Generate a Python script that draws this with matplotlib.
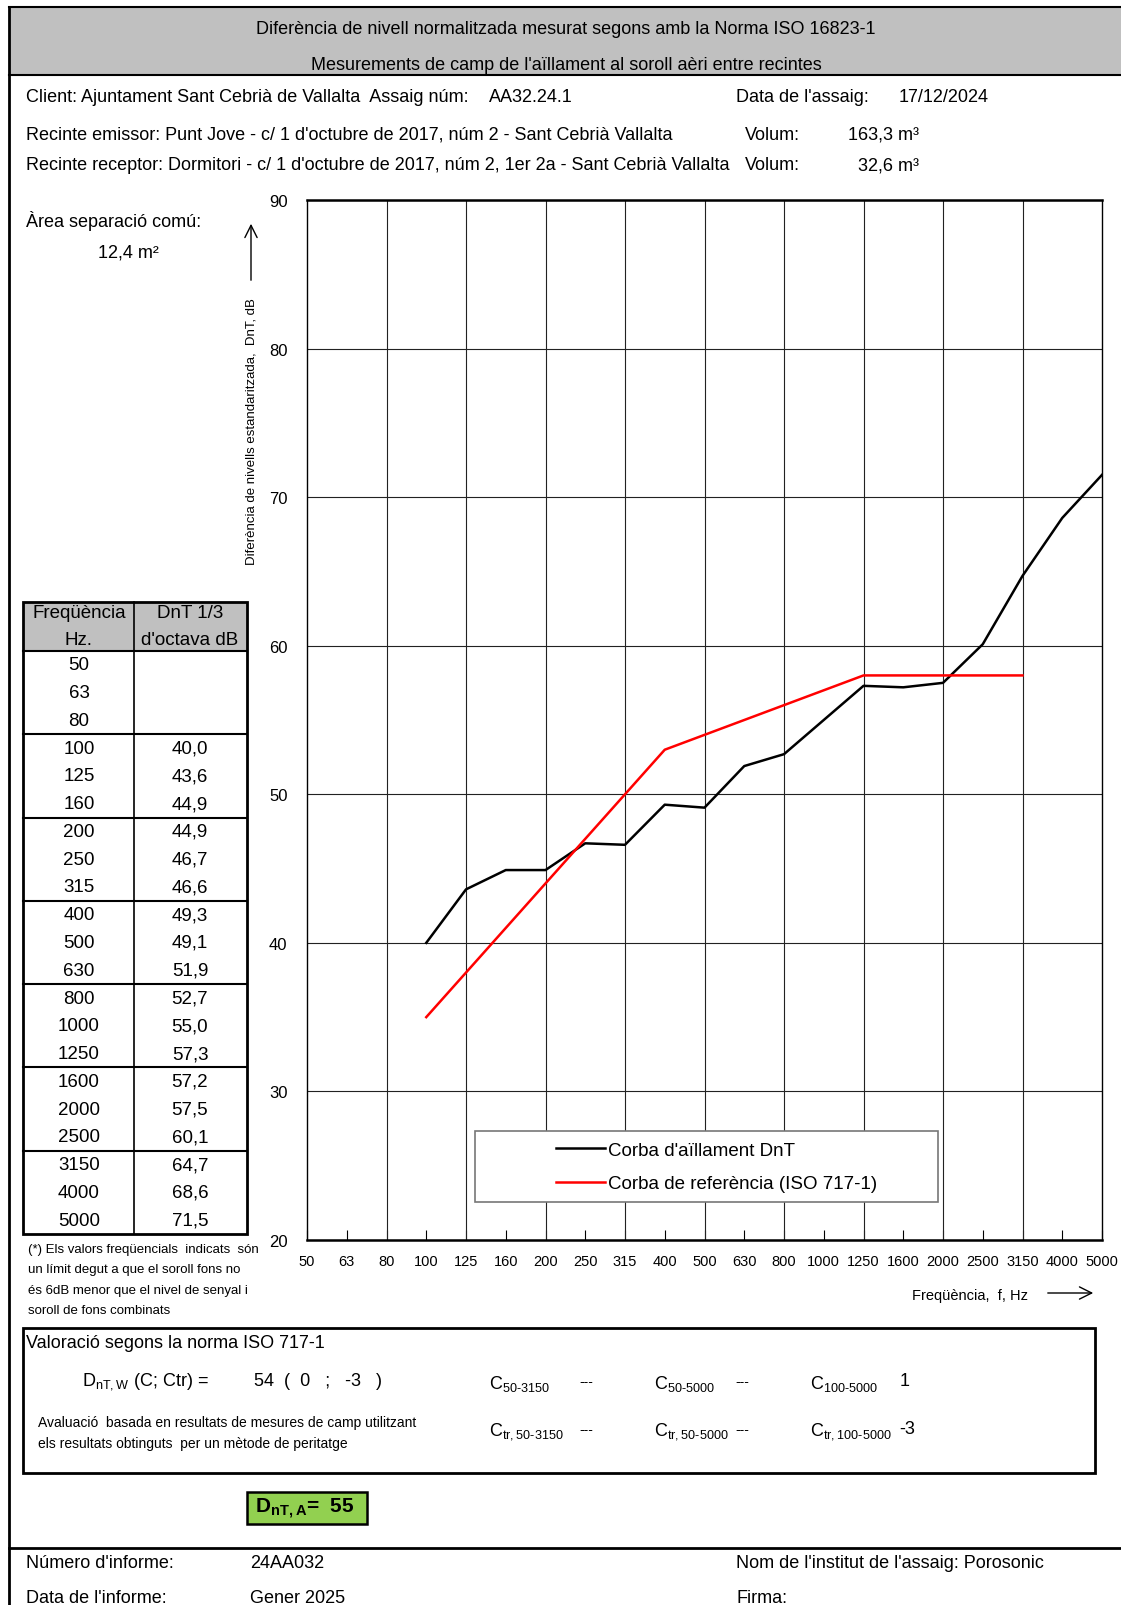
import matplotlib
matplotlib.use("Agg")
import matplotlib.pyplot as plt
from matplotlib import font_manager
from matplotlib.patches import Rectangle

# --- data ---
freq_labels = ["50", "63", "80", "100", "125", "160", "200", "250", "315", "400", "500",
               "630", "800", "1000", "1250", "1600", "2000", "2500", "3150", "4000", "5000"]
dnt_freqs = ["100", "125", "160", "200", "250", "315", "400", "500", "630", "800",
             "1000", "1250", "1600", "2000", "2500", "3150", "4000", "5000"]
dnt_values = [40.0, 43.6, 44.9, 44.9, 46.7, 46.6, 49.3, 49.1, 51.9, 52.7,
              55.0, 57.3, 57.2, 57.5, 60.1, 64.7, 68.6, 71.5]
ref_freqs = ["100", "125", "160", "200", "250", "315", "400", "500", "630", "800",
             "1000", "1250", "1600", "2000", "2500", "3150"]
ref_values = [35, 38, 41, 44, 47, 50, 53, 54, 55, 56, 57, 58, 58, 58, 58, 58]
grid_freqs = ["80", "125", "200", "315", "500", "800", "1250", "2000", "3150"]
y_ticks = [20, 30, 40, 50, 60, 70, 80, 90]

# fonts
names = {f.name for f in font_manager.fontManager.ttflist}
narrow = "Liberation Sans Narrow" if "Liberation Sans Narrow" in names else "Liberation Sans"
plain = "Liberation Sans"
plt.rcParams["font.family"] = [narrow, "DejaVu Sans"]
plt.rcParams["mathtext.fontset"] = "custom"
plt.rcParams["mathtext.rm"] = narrow
plt.rcParams["mathtext.default"] = "regular"

W, H = 1121, 1606
fig = plt.figure(figsize=(W / 100, H / 100), dpi=100)

# page layer in pixel coordinates
pg = fig.add_axes([0, 0, 1, 1])
pg.set_xlim(0, W)
pg.set_ylim(H, 0)
pg.axis("off")

def txt(x, y, s, size=13, ha="left", **kw):
    pg.text(x, y, s, fontsize=size, ha=ha, va="center", **kw)

# frame + header
pg.add_patch(Rectangle((9, 8), W - 9, 68, facecolor="#c0c0c0", edgecolor="none"))
pg.plot([9, W], [8, 8], color="black", lw=1.5)
pg.plot([9, W], [76, 76], color="black", lw=1.5)
pg.plot([9, 9], [8, H], color="black", lw=2)
pg.plot([9, W], [1549, 1549], color="black", lw=2)
txt(566, 30, "Diferència de nivell normalitzada mesurat segons amb la Norma ISO 16823-1", ha="center")
txt(566, 65, "Mesurements de camp de l'aïllament al soroll aèri entre recintes", ha="center")

txt(26, 98, "Client: Ajuntament Sant Cebrià de Vallalta  Assaig núm:")
txt(489, 98, "AA32.24.1")
txt(736, 98, "Data de l'assaig:")
txt(899, 98, "17/12/2024")
txt(26, 135, "Recinte emissor: Punt Jove - c/ 1 d'octubre de 2017, núm 2 - Sant Cebrià Vallalta")
txt(745, 135, "Volum:")
txt(919, 135, "163,3 m³", ha="right")
txt(26, 166, "Recinte receptor: Dormitori - c/ 1 d'octubre de 2017, núm 2, 1er 2a - Sant Cebrià Vallalta")
txt(745, 166, "Volum:")
txt(919, 166, "32,6 m³", ha="right")

txt(26, 221, "Àrea separació comú:")
txt(128, 253, "12,4 m²", ha="center")

# y label with arrow
pg.text(251, 432, "Diferència de nivells estandaritzada,  DnT, dB", rotation=90,
        fontsize=9.5, ha="center", va="center")
pg.annotate("", xy=(251, 222), xytext=(251, 284),
            arrowprops=dict(arrowstyle="->", lw=1, color="black", mutation_scale=22))
# x label with arrow
txt(1028, 1296, "Freqüència,  f, Hz", size=10.5, ha="right")
pg.annotate("", xy=(1096, 1294), xytext=(1045, 1294),
            arrowprops=dict(arrowstyle="->", lw=1, color="black", mutation_scale=22))

# --- chart ---
ax_l, ax_r, ax_t, ax_b = 307, 1102, 201, 1241
ax = fig.add_axes([ax_l / W, 1 - ax_b / H, (ax_r - ax_l) / W, (ax_b - ax_t) / H])
xpos = {f: i for i, f in enumerate(freq_labels)}
ax.vlines([xpos[f] for f in grid_freqs], 20, 90, color="#222222", lw=0.8, zorder=1)
ax.plot([xpos[f] for f in dnt_freqs], dnt_values, color="black", lw=1.8,
        label="Corba d'aïllament DnT", zorder=3)
ax.plot([xpos[f] for f in ref_freqs], ref_values, color="red", lw=1.8,
        label="Corba de referència (ISO 717-1)", zorder=3)
ax.set_xlim(0, len(freq_labels) - 1)
ax.set_ylim(20, 90)
ax.set_xticks(range(len(freq_labels)))
ax.set_xticklabels(freq_labels, fontsize=10.5)
ax.tick_params(axis="x", which="major", direction="in", length=7, width=0.8, pad=10)
ax.set_yticks(y_ticks)
ax.set_yticklabels([str(v) for v in y_ticks], fontsize=12)
ax.tick_params(axis="y", length=0, pad=14)
ax.grid(axis="y", which="major", color="#222222", lw=0.8)
ax.set_axisbelow(True)
for s in ["top", "bottom"]:
    ax.spines[s].set_linewidth(1.8)
for s in ["left", "right"]:
    ax.spines[s].set_linewidth(1.0)

# legend: white box plus entries
def fx(px):
    return (px - ax_l) / (ax_r - ax_l)

def fy(py):
    return (ax_b - py) / (ax_b - ax_t)

ax.add_patch(Rectangle((fx(475), fy(1203)), fx(938) - fx(475), fy(1132) - fy(1203),
                       transform=ax.transAxes, facecolor="white", edgecolor="#777777",
                       lw=1.2, zorder=4))
leg = ax.legend(loc="center left", bbox_to_anchor=(fx(556), fy(1168)), frameon=False,
                prop={"family": plain, "size": 13.5}, handlelength=2.6, handletextpad=0.2,
                borderpad=0, borderaxespad=0, labelspacing=0.85)
leg.set_zorder(5)

# --- table ---
tx0, tx1, tdiv = 22.5, 247, 134
ty0, thead, ty1 = 602.5, 652, 1235
nrow = len(freq_labels)
rh = (ty1 - thead) / nrow
pg.add_patch(Rectangle((tx0, ty0), tx1 - tx0, thead - ty0, facecolor="#c0c0c0", edgecolor="none"))
pg.add_patch(Rectangle((tx0, ty0), tx1 - tx0, ty1 - ty0, facecolor="none", edgecolor="black", lw=2))
pg.plot([tdiv, tdiv], [ty0, ty1], color="black", lw=1.2)
pg.plot([tx0, tx1], [thead, thead], color="black", lw=1.5)
for k in range(3, nrow, 3):
    yy = thead + k * rh
    pg.plot([tx0, tx1], [yy, yy], color="black", lw=1.5)
c1, c2 = 79, 190
txt(c1, 614, "Freqüència", size=13.5, ha="center", family=plain)
txt(c1, 641, "Hz.", size=13.5, ha="center", family=plain)
txt(c2, 614, "DnT 1/3", size=13.5, ha="center", family=plain)
txt(c2, 641, "d'octava dB", size=13.5, ha="center", family=plain)
dnt_map = dict(zip(dnt_freqs, dnt_values))
for i, f in enumerate(freq_labels):
    yy = thead + (i + 0.5) * rh
    txt(c1, yy, f, size=13.5, ha="center", family=plain)
    if f in dnt_map:
        txt(c2, yy, f"{dnt_map[f]:.1f}".replace(".", ","), size=13.5, ha="center", family=plain)

foot = ["(*) Els valors freqüencials  indicats  són",
        "un límit degut a que el soroll fons no",
        "és 6dB menor que el nivel de senyal i",
        "soroll de fons combinats"]
for i, line in enumerate(foot):
    txt(28, 1250 + i * 20.5, line, size=9.5, family=plain)

# --- valoració box ---
pg.add_patch(Rectangle((22.5, 1329), 1095 - 22.5, 1474 - 1329, facecolor="none", edgecolor="black", lw=2))
txt(26, 1344, "Valoració segons la norma ISO 717-1")
txt(82, 1382, r"D$_{nT,W}$ (C; Ctr) =")
txt(254, 1382, "54  (  0   ;   -3   )")
txt(489, 1384, r"C$_{50\text{-}3150}$")
txt(579, 1382, "---", size=10)
txt(654, 1384, r"C$_{50\text{-}5000}$")
txt(735, 1382, "---", size=10)
txt(810, 1384, r"C$_{100\text{-}5000}$")
txt(900, 1382, "1")
txt(38, 1423, "Avaluació  basada en resultats de mesures de camp utilitzant", size=10)
txt(38, 1444, "els resultats obtinguts  per un mètode de peritatge", size=10)
txt(489, 1432, r"C$_{tr,50\text{-}3150}$")
txt(579, 1430, "---", size=10)
txt(654, 1432, r"C$_{tr,50\text{-}5000}$")
txt(735, 1430, "---", size=10)
txt(810, 1432, r"C$_{tr,100\text{-}5000}$")
txt(899, 1430, "-3")

pg.add_patch(Rectangle((247, 1493), 120, 32, facecolor="#92d050", edgecolor="black", lw=1.8))
txt(255, 1509, r"D$_{nT,A}$=  55", size=15, fontweight="bold")

# --- footer ---
txt(26, 1564, "Número d'informe:")
txt(250, 1564, "24AA032")
txt(736, 1564, "Nom de l'institut de l'assaig: Porosonic")
txt(26, 1599, "Data de l'informe:")
txt(250, 1599, "Gener 2025")
txt(736, 1599, "Firma:")

fig.savefig("out.png", dpi=100)
